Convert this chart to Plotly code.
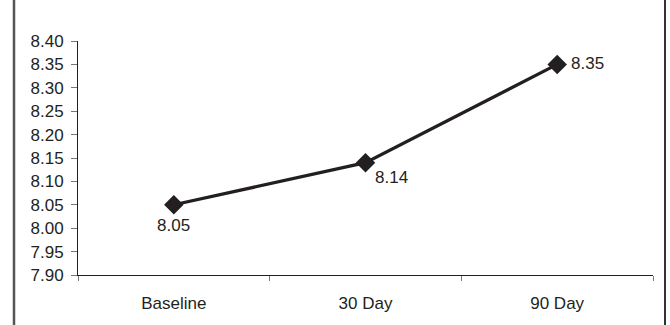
import plotly.graph_objects as go

# Mean values at each visit
visits = ["Baseline", "30 Day", "90 Day"]
means = [8.05, 8.14, 8.35]

ink = "#231f20"
font_family = "Arial, Liberation Sans, Helvetica, sans-serif"
font_size = 17

fig = go.Figure()
fig.add_trace(go.Scatter(
    x=visits,
    y=means,
    mode="lines+markers",
    line=dict(color=ink, width=3.2),
    marker=dict(symbol="diamond", size=15, color=ink),
    cliponaxis=False,
    showlegend=False,
))

# Value labels placed next to each point
label_offsets = [
    dict(xanchor="center", xshift=0, yshift=-21),
    dict(xanchor="center", xshift=26, yshift=-15),
    dict(xanchor="left", xshift=12, yshift=1),
]
for visit, value, off in zip(visits, means, label_offsets):
    fig.add_annotation(
        x=visit, y=value, text=f"{value:.2f}",
        showarrow=False, yanchor="middle",
        font=dict(family=font_family, size=font_size, color=ink),
        **off,
    )

L, R, T, B = 78, 670 - 653, 41, 325 - 275

fig.update_layout(
    width=670,
    height=325,
    margin=dict(l=L, r=R, t=T, b=B),
    paper_bgcolor="white",
    plot_bgcolor="white",
    font=dict(family=font_family, size=font_size, color=ink),
    xaxis=dict(
        type="category",
        range=[-0.5, 2.5],
        tickson="boundaries",
        ticks="outside",
        ticklen=5,
        tickcolor="#777777",
        tickwidth=1,
        showline=True,
        linecolor=ink,
        linewidth=1,
        showgrid=False,
        zeroline=False,
        ticklabelstandoff=13,
    ),
    yaxis=dict(
        range=[7.90, 8.40],
        dtick=0.05,
        tick0=7.90,
        tickformat=".2f",
        ticks="outside",
        ticklen=6,
        tickcolor="#777777",
        tickwidth=1,
        showline=True,
        linecolor=ink,
        linewidth=1,
        showgrid=False,
        zeroline=False,
        ticklabelstandoff=4,
    ),
)

# Frame lines on the left and right of the figure
plot_w = 670 - L - R
for px, color, w in [(14, "#555555", 2.5), (665, "#333333", 2)]:
    fig.add_shape(
        type="line",
        xref="paper", yref="paper",
        x0=(px - L) / plot_w, x1=(px - L) / plot_w,
        y0=-1, y1=2,
        line=dict(color=color, width=w),
    )

fig.write_html("out.html")
